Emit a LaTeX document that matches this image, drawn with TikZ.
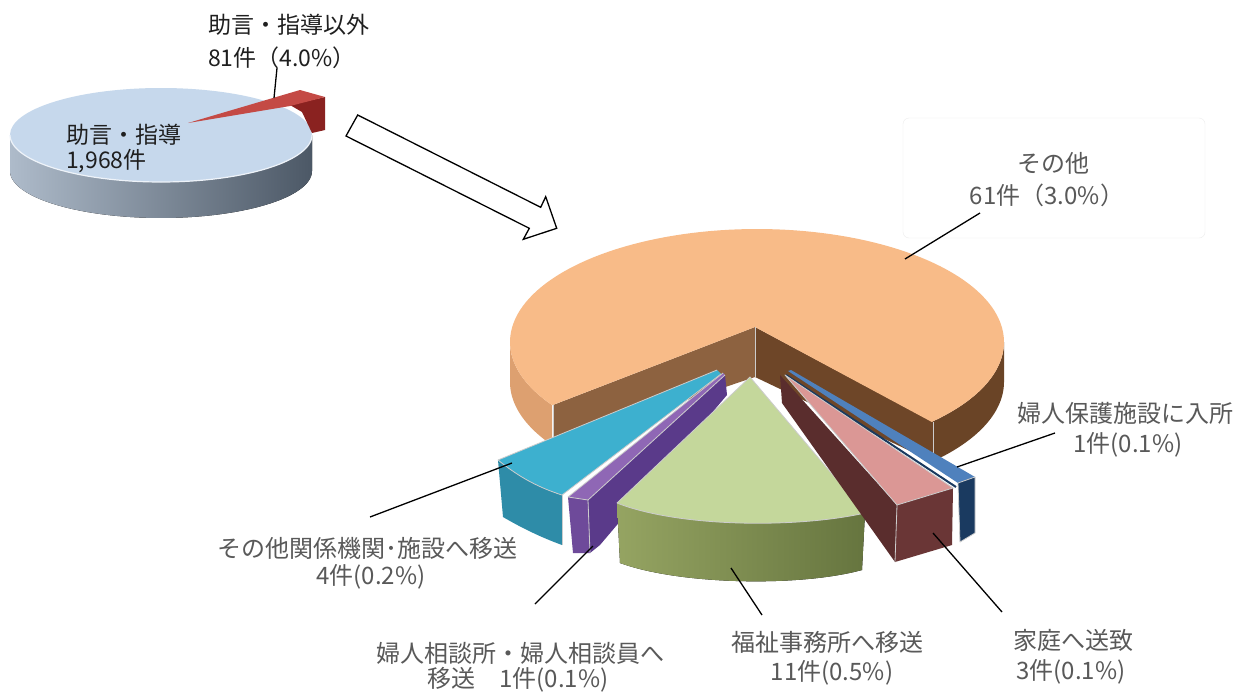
\documentclass[tikz,border=0pt]{standalone}
\usepackage{fontspec}
\newfontfamily\jp{Noto Sans CJK JP}
\definecolor{labgray}{HTML}{595959}
\definecolor{orTop}{HTML}{F8BB88}
\definecolor{orSide}{HTML}{DDA070}
\definecolor{orCutL}{HTML}{8D6240}
\definecolor{orCutR}{HTML}{6E4628}
\definecolor{orRimR}{HTML}{6A4426}
\definecolor{tealTop}{HTML}{3DB0CF}
\definecolor{tealFront}{HTML}{2E8CA8}
\definecolor{purTop}{HTML}{8F67B5}
\definecolor{purFront}{HTML}{6E4A9A}
\definecolor{purSide}{HTML}{5A3A8A}
\definecolor{grTop}{HTML}{C4D79B}
\definecolor{grFrontL}{HTML}{95A462}
\definecolor{grFrontR}{HTML}{66753F}
\definecolor{pinkTop}{HTML}{DB9795}
\definecolor{brSide}{HTML}{5A2D2D}
\definecolor{brFront}{HTML}{6A3636}
\definecolor{bluTop}{HTML}{4F81BD}
\definecolor{navy}{HTML}{1A3A60}
\definecolor{smallTop}{HTML}{C6D8EC}
\definecolor{smallSideL}{HTML}{AEBBCA}
\definecolor{smallSideR}{HTML}{4C5866}
\definecolor{redTop}{HTML}{C44A45}
\definecolor{redFront}{HTML}{8A2220}
\begin{document}
\begin{tikzpicture}[x=1pt,y=-1pt,
  lbl/.style={font=\jp\fontsize{24}{30}\selectfont, text=labgray, inner sep=0pt},
  slbl/.style={font=\jp\fontsize{23}{29}\selectfont, text=black!88, inner sep=0pt, anchor=west},
  lead/.style={draw=black, line width=1.3pt},
  rim/.style={draw=white!80!black, line width=0.8pt, line join=round}]
\useasboundingbox (0,0) rectangle (1242,691);
\fill[white] (0,0) rectangle (1242,691);

% ---------- small pie ----------
\fill[left color=smallSideL, right color=smallSideR]
  plot[domain=0:180, samples=60] ({161+151*cos(\x)},{171+47*sin(\x)})
  -- (10,135) -- (312,135) -- cycle;
\fill[smallTop] (161,135) ellipse [x radius=151pt, y radius=47pt];
\draw[white!70!smallTop, line width=1.2pt]
  plot[domain=0:180, samples=60] ({161+151*cos(\x)},{135+47*sin(\x)});
\fill[redFront] (290,105) -- (325,97) -- (325,130) -- (312,133) -- (302,112) -- cycle;
\fill[redTop] (188,123) -- (300,90) -- (325,97) -- (290,106) -- cycle;

% ---------- block arrow ----------
\draw[line width=1.3pt, fill=white, line join=miter]
  (357.7,115) -- (540.7,207.3) -- (545.7,196.7) -- (556.7,228.3)
  -- (523.3,239.3) -- (529.3,228.3) -- (346,136) -- cycle;

% ---------- big pie: orange part ----------
\fill[orSide]
  plot[domain=146:180, samples=30] ({757+247*cos(\x)},{342+113*sin(\x)})
  -- plot[domain=180:146, samples=30] ({757+247*cos(\x)},{382+113*sin(\x)}) -- cycle;
\fill[orRimR]
  plot[domain=0:45, samples=30] ({757+247*cos(\x)},{342+113*sin(\x)})
  -- plot[domain=45:0, samples=30] ({757+247*cos(\x)},{382+113*sin(\x)}) -- cycle;
\fill[orCutL] (755,327) -- (553,405) -- (553,445) -- (755,377) -- cycle;
\fill[orCutR] (755,327) -- (933,422) -- (933,462) -- (755,377) -- cycle;
\fill[orTop] (755,327) -- plot[domain=146:405, samples=120] ({757+247*cos(\x)},{342+113*sin(\x)}) -- cycle;
\draw[rim] (755,327) -- (755,377);
\draw[rim] (553,405) -- (553,445);
\draw[rim] (933,422) -- (933,462);

% ---------- teal ----------
\fill[tealFront] (498,460) .. controls (520,478) and (540,488) .. (562,495)
  -- (562,545) .. controls (540,537) and (520,527) .. (503,517) -- cycle;
\fill[tealTop] (717,370) -- (498,460) .. controls (520,478) and (540,488) .. (562,495) -- (721,374) -- cycle;
\draw[rim] (717,370) -- (498,460) .. controls (520,478) and (540,488) .. (562,495) -- (721,374);
\draw[rim] (562,495) -- (562,545);

% ---------- purple ----------
\fill[purSide] (725,375) -- (588,500) -- (590,553) -- (600,545) -- (727,395) -- cycle;
\fill[purTop] (723,373) -- (568,497) -- (588,500) -- (725,375) -- cycle;
\fill[purFront] (568,497) -- (588,500) -- (590,553) -- (573,553) -- cycle;
\draw[rim] (723,373) -- (568,497) -- (588,500) -- (725,375);
\draw[rim] (588,500) -- (590,553);

% ---------- green ----------
\fill[left color=grFrontL, right color=grFrontR]
  (617,503) .. controls (680,528) and (800,528) .. (865,513)
  -- (862,570) .. controls (800,587) and (680,585) .. (620,563) -- cycle;
\fill[grTop] (750,377) -- (617,503) .. controls (680,528) and (800,528) .. (865,513) -- cycle;
\draw[rim] (750,377) -- (617,503) .. controls (680,528) and (800,528) .. (865,513) -- cycle;

% ---------- blue ----------
\draw[navy, line width=2pt] (786,375) -- (956,487);
\fill[bluTop] (788,371) -- (958,483) -- (975,477) -- (791,370) -- cycle;
\fill[navy] (958,483) -- (975,477) -- (975,533) -- (960,542) -- cycle;
\draw[rim] (958,483) -- (975,477) -- (975,533) -- (960,542) -- cycle;

% ---------- brown / pink ----------
\fill[brSide] (780,375) -- (897,505) -- (895,562) -- (782,403) -- cycle;
\fill[pinkTop] (785,375) -- (897,505) -- (953,488) -- cycle;
\fill[brFront] (897,505) -- (953,488) -- (952,545) -- (895,562) -- cycle;
\draw[rim] (785,375) -- (897,505) -- (953,488) -- cycle;
\draw[rim] (897,505) -- (895,562);

% ---------- labels ----------
\node[slbl] (s1a) at (208,25) {助言・指導以外};
\node[slbl] (s1b) at (208,58) {81件（4.0\%）};
\node[slbl] (s2a) at (66,135) {助言・指導};
\node[slbl] (s2b) at (66,161) {1,968件};

\node[draw=black!7, rounded corners=6pt, minimum width=302pt, minimum height=120pt] (obox) at (1054,178) {};
\node[lbl] (o1) at (1053,163) {その他};
\node[lbl] (o2) at (1047,195) {61件（3.0\%）};

\node[lbl] (h1) at (1125,413) {婦人保護施設に入所};
\node[lbl] (h2) at (1128,445) {1件(0.1\%)};

\node[lbl] (k1) at (367,548) {その他関係機関･施設へ移送};
\node[lbl] (k2) at (371,577) {4件(0.2\%)};

\node[lbl] (f1) at (520,653) {婦人相談所・婦人相談員へ};
\node[lbl] (f2) at (518,680) {移送\quad 1件(0.1\%)};

\node[lbl] (w1) at (827,642) {福祉事務所へ移送};
\node[lbl] (w2) at (832,673) {11件(0.5\%)};

\node[lbl] (g1) at (1073,640) {家庭へ送致};
\node[lbl] (g2) at (1071,672) {3件(0.1\%)};

% ---------- leader lines ----------
\coordinate (La1) at (277,68);  \coordinate (La2) at (274,98);
\coordinate (Lb1) at (980,213); \coordinate (Lb2) at (905,259);
\coordinate (Lc1) at (1055,433);\coordinate (Lc2) at (957,467);
\coordinate (Ld1) at (933,533); \coordinate (Ld2) at (1002,612);
\coordinate (Le1) at (731,568); \coordinate (Le2) at (762,615);
\coordinate (Lf1) at (593,546); \coordinate (Lf2) at (535,604);
\coordinate (Lg1) at (512,463); \coordinate (Lg2) at (370,517);
\draw[lead] (La1) -- (La2);
\draw[lead] (Lb1) -- (Lb2);
\draw[lead] (Lc1) -- (Lc2);
\draw[lead] (Ld1) -- (Ld2);
\draw[lead] (Le1) -- (Le2);
\draw[lead] (Lf1) -- (Lf2);
\draw[lead] (Lg1) -- (Lg2);
\end{tikzpicture}
\end{document}
